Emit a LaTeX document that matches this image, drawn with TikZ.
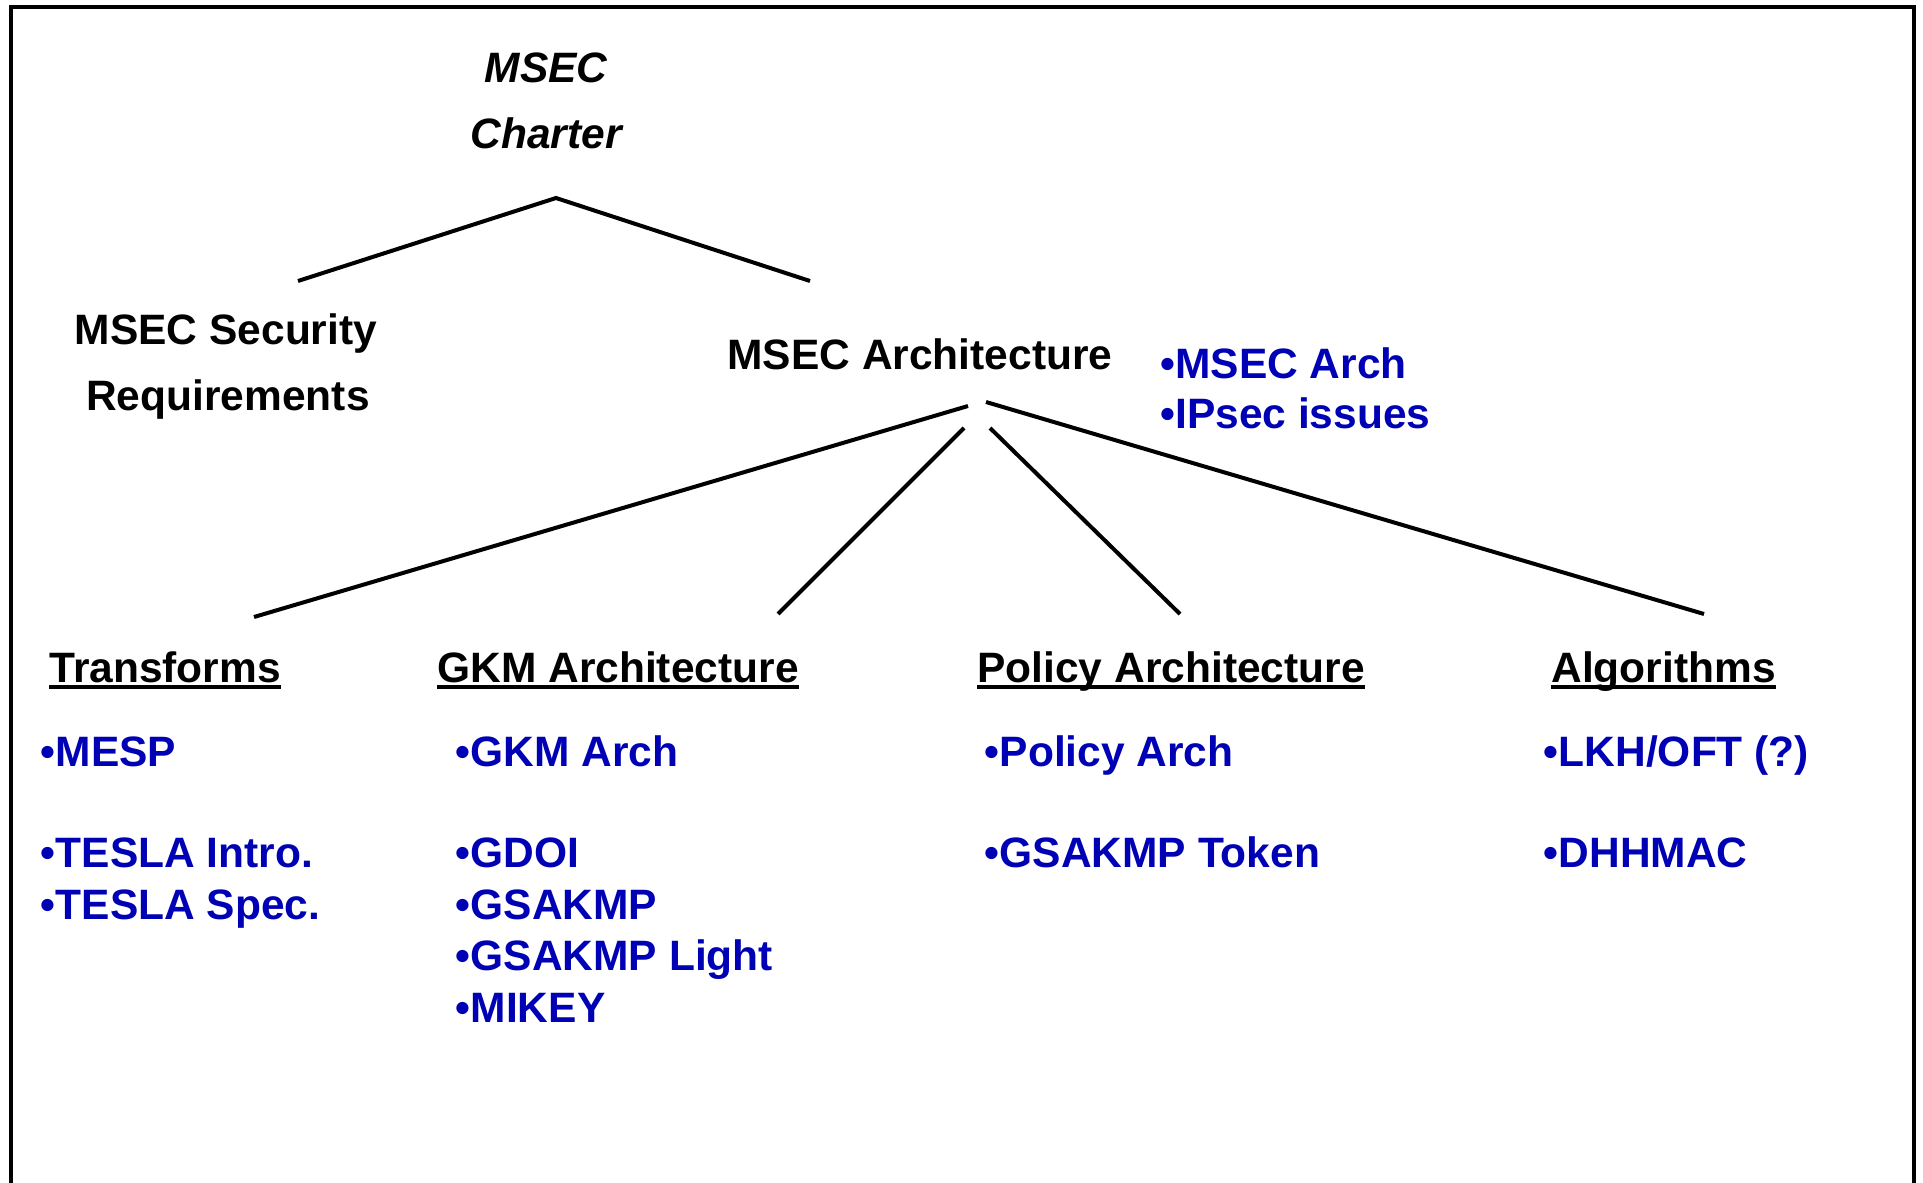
\documentclass[tikz,border=0pt]{standalone}
\usepackage{fontspec}
\setmainfont{Liberation Sans}
\definecolor{msecblue}{RGB}{0,0,180}
\begin{document}
\begin{tikzpicture}[x=0.5pt,y=-0.5pt,
  txt/.style={inner sep=0pt, font=\fontsize{21.25pt}{25pt}\selectfont\bfseries},
  ctr/.style={txt, anchor=base},
  lft/.style={txt, anchor=base west},
  item/.style={lft, text=msecblue},
  hdr/.style={lft},
  conn/.style={line width=2pt},
  uline/.style={line width=2pt}]
\useasboundingbox (0,0) rectangle (1923,1183);
\draw[line width=2pt] (11,1190) -- (11,7) -- (1914,7) -- (1914,1190);

% top
\node[ctr, font=\fontsize{21.25pt}{25pt}\selectfont\bfseries\itshape] (msec) at (546,83) {MSEC};
\node[ctr, font=\fontsize{21.25pt}{25pt}\selectfont\bfseries\itshape] (charter) at (546,148) {Charter};
\node[ctr] (secreq1) at (226,344) {MSEC Security};
\node[ctr] (secreq2) at (228,410) {Requirements};
\node[ctr] (arch) at (920,369) {MSEC Architecture};
\node[item] (archa) at (1160,378) {•MSEC Arch};
\node[item] (archb) at (1160,428) {•IPsec issues};

% connectors top
\coordinate (cpeak) at (556,198);
\coordinate (cleft) at (298,281);
\coordinate (cright) at (810,281);
\draw[conn] (cleft) -- (cpeak) -- (cright);

\coordinate (a1) at (968,406);
\coordinate (a2) at (964,428);
\coordinate (a3) at (990,428);
\coordinate (a4) at (986,402);
\coordinate (t1) at (254,617);
\coordinate (t2) at (778,614);
\coordinate (t3) at (1180,614);
\coordinate (t4) at (1704,614);
\draw[conn] (a1) -- (t1);
\draw[conn] (a2) -- (t2);
\draw[conn] (a3) -- (t3);
\draw[conn] (a4) -- (t4);

% headers
\node[hdr] (htr) at (49,682) {Transforms};
\node[hdr] (hgkm) at (437,682) {GKM Architecture};
\node[hdr] (hpol) at (977,682) {Policy Architecture};
\node[hdr] (halg) at (1551,682) {Algorithms};
\foreach \h in {htr,hgkm,hpol,halg}{
  \draw[uline] ([yshift=-2.6pt]\h.base west) -- ([yshift=-2.6pt]\h.base east);
}

% items
\node[item] (tr1) at (40.5,766) {•MESP};
\node[item] (tr2) at (40.5,867) {•TESLA Intro.};
\node[item] (tr3) at (40.5,919) {•TESLA Spec.};

\node[item] (g1) at (455.5,766) {•GKM Arch};
\node[item] (g2) at (455.5,867) {•GDOI};
\node[item] (g3) at (455.5,919) {•GSAKMP};
\node[item] (g4) at (455.5,970) {•GSAKMP Light};
\node[item] (g5) at (455.5,1022) {•MIKEY};

\node[item] (p1) at (984.5,766) {•Policy Arch};
\node[item] (p2) at (984.5,867) {•GSAKMP Token};

\node[item] (al1) at (1543.5,766) {•LKH/OFT (?)};
\node[item] (al2) at (1543.5,867) {•DHHMAC};
\end{tikzpicture}
\end{document}
